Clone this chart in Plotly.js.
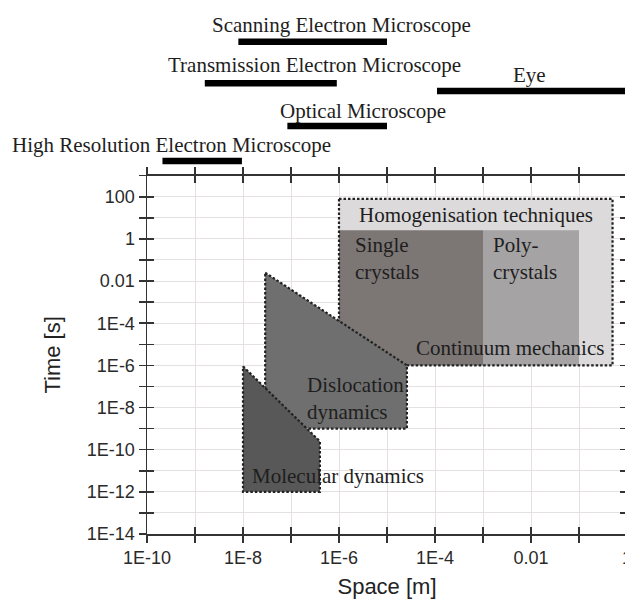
<!DOCTYPE html>
<html>
<head>
<meta charset="utf-8">
<script src="https://cdn.plot.ly/plotly-3.0.1.min.js"></script>
<style>
html, body { margin: 0; padding: 0; overflow: hidden; background: #fff; }
#chart { width: 640px; height: 599px; }
</style>
</head>
<body>
<div id="chart"></div>
<script>
// ---- Data ----
// Axis ticks
const xTickVals = [1e-10, 1e-9, 1e-8, 1e-7, 1e-6, 1e-5, 1e-4, 1e-3, 1e-2, 1e-1, 1];
const xTickText = ['1E-10', '', '1E-8', '', '1E-6', '', '1E-4', '', '0.01', '', '1'];
const yTickVals = [1e-14, 1e-13, 1e-12, 1e-11, 1e-10, 1e-9, 1e-8, 1e-7, 1e-6, 1e-5, 1e-4, 1e-3, 1e-2, 1e-1, 1, 10, 100, 1000];
const yTickText = ['1E-14', '', '1E-12', '', '1E-10', '', '1E-8', '', '1E-6', '', '1E-4', '', '0.01', '', '1', '', '100', ''];

// Observation techniques (space ranges in m) shown above the plot
const instruments = ['Scanning Electron Microscope', 'Transmission Electron Microscope', 'Eye', 'Optical Microscope', 'High Resolution Electron Microscope'];
const instrMin = [8e-9, 1.6e-9, 1.1e-4, 8.4e-8, 2.1e-10];
const instrMax = [1e-5, 9e-7, 10, 1e-5, 9.5e-9];
const instrLevel = [76.3, 52.6, 48.2, 28.3, 8.4];

// Modelling regions (space [m], time [s])
const homogX = [1e-6, 0.5, 0.5, 1e-6, 1e-6];
const homogY = [80, 80, 1e-6, 1e-6, 80];
const singleX = [1e-6, 1e-3, 1e-3, 1e-6, 1e-6];
const singleY = [2.6, 2.6, 1e-6, 1e-6, 2.6];
const polyX = [1e-3, 0.1, 0.1, 1e-3, 1e-3];
const polyY = [2.6, 2.6, 1e-6, 1e-6, 2.6];
const dislocX = [2.9e-8, 2.6e-5, 2.6e-5, 2.9e-8, 2.9e-8];
const dislocY = [0.025, 1e-6, 1e-9, 1e-9, 0.025];
const molX = [1e-8, 4e-7, 4e-7, 1e-8, 1e-8];
const molY = [9e-7, 2.5e-10, 1e-12, 1e-12, 9e-7];

// ---- Styles ----
const SERIF = 'Liberation Serif, Times New Roman, serif';
const SANS = 'Liberation Sans, Arial, sans-serif';
const TXT = '#1e1e1e';
const dotted = { color: '#222', width: 2.2, dash: '2.5px,2px' };

const traces = [];
// top strip: instrument bars
instruments.forEach((name, i) => {
  traces.push({
    type: 'scatter', mode: 'lines', xaxis: 'x2', yaxis: 'y2',
    x: [instrMin[i], instrMax[i]], y: [instrLevel[i], instrLevel[i]],
    line: { color: '#000', width: 6.5 }, hoverinfo: 'skip', showlegend: false, name: name
  });
});
// continuum region background
traces.push({ type: 'scatter', mode: 'none', x: homogX, y: homogY, fill: 'toself', fillcolor: '#dcdadb', hoverinfo: 'skip', showlegend: false });
traces.push({ type: 'scatter', mode: 'none', x: singleX, y: singleY, fill: 'toself', fillcolor: '#7c7675', hoverinfo: 'skip', showlegend: false });
traces.push({ type: 'scatter', mode: 'none', x: polyX, y: polyY, fill: 'toself', fillcolor: '#a5a3a4', hoverinfo: 'skip', showlegend: false });
traces.push({ type: 'scatter', mode: 'lines', x: homogX, y: homogY, line: dotted, hoverinfo: 'skip', showlegend: false });
// dislocation dynamics
traces.push({ type: 'scatter', mode: 'lines', x: dislocX, y: dislocY, fill: 'toself', fillcolor: '#6f6f6f', line: dotted, hoverinfo: 'skip', showlegend: false });
// molecular dynamics (on overlay axes -> drawn on top)
traces.push({ type: 'scatter', mode: 'lines', xaxis: 'x3', yaxis: 'y3', x: molX, y: molY, fill: 'toself', fillcolor: '#585858', line: dotted, hoverinfo: 'skip', showlegend: false });

const annotations = [
  // top strip labels
  { xref: 'x2', yref: 'y2', x: -5.942, y: 85.8, text: instruments[0] },
  { xref: 'x2', yref: 'y2', x: -6.504, y: 63.0, text: instruments[1] },
  { xref: 'x2', yref: 'y2', x: -2.023, y: 57.3, text: instruments[2] },
  { xref: 'x2', yref: 'y2', x: -5.509, y: 36.8, text: instruments[3] },
  { xref: 'x2', yref: 'y2', x: -9.494, y: 17.5, text: instruments[4] },
  // in-plot labels
  { xref: 'x', yref: 'y', x: -3.153, y: 1.133, text: 'Homogenisation techniques' },
  { xref: 'x', yref: 'y', x: -5.70, y: -0.94, text: 'Single<br>crystals', xanchor: 'left', align: 'left' },
  { xref: 'x', yref: 'y', x: -2.84, y: -0.94, text: 'Poly-<br>crystals', xanchor: 'left', align: 'left' },
  { xref: 'x', yref: 'y', x: -0.441, y: -5.17, text: 'Continuum mechanics', xanchor: 'right' },
  { xref: 'x', yref: 'y', x: -6.705, y: -7.59, text: 'Dislocation<br>dynamics', xanchor: 'left', align: 'left' },
  { xref: 'x', yref: 'y', x: -7.85, y: -11.24, text: 'Molecular dynamics', xanchor: 'left' }
].map(a => Object.assign({ showarrow: false, font: { family: SERIF, size: 21, color: TXT }, xanchor: 'center', yanchor: 'middle' }, a));

const tickCommon = { tickcolor: '#333', tickwidth: 1.5, ticklen: 7 };

const layout = {
  width: 640, height: 599,
  margin: { l: 147, r: 12.5, t: 0, b: 65 },
  paper_bgcolor: '#fff', plot_bgcolor: 'rgba(0,0,0,0)',
  showlegend: false,
  xaxis: Object.assign({
    type: 'log', range: [-10, 0], anchor: 'y',
    tickmode: 'array', tickvals: xTickVals, ticktext: xTickText,
    ticks: 'outside', mirror: 'ticks', showline: true, linecolor: '#333', linewidth: 1.5,
    showgrid: true, gridcolor: '#e5e1e1', gridwidth: 1, zeroline: false,
    tickfont: { family: SANS, size: 18, color: '#2a2a2a' },
    title: { text: 'Space [m]', font: { family: SANS, size: 22, color: '#222' }, standoff: 14 }
  }, tickCommon),
  yaxis: Object.assign({
    type: 'log', range: [-14, 3], domain: [0, 0.671], anchor: 'x',
    tickmode: 'array', tickvals: yTickVals, ticktext: yTickText,
    ticks: 'outside', mirror: 'ticks', showline: true, linecolor: '#333', linewidth: 1.5,
    showgrid: true, gridcolor: '#e5e1e1', gridwidth: 1, zeroline: false,
    tickfont: { family: SANS, size: 18, color: '#2a2a2a' },
    title: { text: 'Time [s]', font: { family: SANS, size: 22, color: '#222' }, standoff: 20 }
  }, tickCommon),
  xaxis3: Object.assign({
    type: 'log', range: [-10, 0], overlaying: 'x', anchor: 'y3',
    tickmode: 'array', tickvals: xTickVals, ticks: 'inside', mirror: 'ticks',
    showticklabels: false, showgrid: false, showline: false, zeroline: false
  }, tickCommon),
  yaxis3: Object.assign({
    type: 'log', range: [-14, 3], overlaying: 'y', anchor: 'x3',
    tickmode: 'array', tickvals: yTickVals, ticks: 'inside', mirror: 'ticks',
    showticklabels: false, showgrid: false, showline: false, zeroline: false
  }, tickCommon),
  xaxis2: { type: 'log', range: [-10, 0], anchor: 'y2', visible: false, showgrid: false },
  yaxis2: { range: [0, 100], domain: [0.671, 1], anchor: 'x2', visible: false, showgrid: false },
  annotations: annotations
};

Plotly.newPlot('chart', traces, layout, { staticPlot: true, displayModeBar: false });
</script>
</body>
</html>
